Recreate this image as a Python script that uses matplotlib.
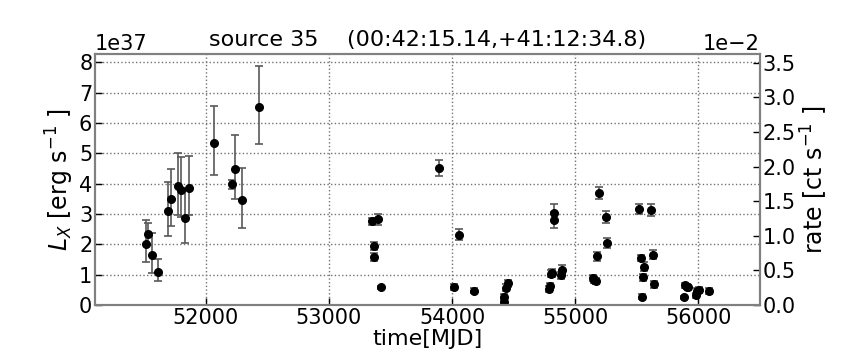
import matplotlib

matplotlib.use("Agg")
import matplotlib.pyplot as plt
import numpy as np

# light curve of source 35, luminosity in units of 1e37 erg/s
mjd = [51512, 51533, 51563, 51612, 51691, 51715, 51775, 51797, 51829, 51864,
       52070, 52214, 52233, 52293, 52428,
       53346, 53368, 53368, 53401, 53425, 53894, 54013, 54056, 54176,
       54420, 54425, 54439, 54455, 54786, 54791, 54800, 54810, 54824, 54824,
       54884, 54894, 55143, 55154, 55165, 55179, 55189, 55249, 55260,
       55517, 55531, 55539, 55550, 55558, 55618, 55628, 55637,
       55883, 55889, 55905, 55916, 55981, 55992, 56006, 56086]
lx = [2.0, 2.33, 1.63, 1.08, 3.09, 3.48, 3.93, 3.79, 2.85, 3.84,
      5.35, 3.98, 4.47, 3.45, 6.52,
      2.75, 1.93, 1.58, 2.83, 0.58, 4.51, 0.58, 2.32, 0.47,
      0.11, 0.27, 0.57, 0.71, 0.53, 0.63, 1.03, 1.05, 3.04, 2.8,
      0.98, 1.16, 0.88, 0.83, 0.79, 1.61, 3.68, 2.89, 2.05,
      3.17, 1.54, 0.27, 0.91, 1.26, 3.12, 1.65, 0.68,
      0.25, 0.65, 0.6, 0.58, 0.32, 0.45, 0.5, 0.45]
err_lo = [0.6, 0.35, 0.58, 0.3, 0.82, 0.88, 0.96, 0.89, 0.8, 0.89,
          1.07, 0.16, 0.97, 0.92, 1.2,
          0.12, 0.13, 0.13, 0.18, 0.05, 0.25, 0.1, 0.18, 0.08,
          0.1, 0.1, 0.12, 0.12, 0.1, 0.1, 0.12, 0.12, 0.28, 0.25,
          0.12, 0.15, 0.1, 0.1, 0.1, 0.15, 0.2, 0.2, 0.17,
          0.17, 0.1, 0.08, 0.12, 0.14, 0.2, 0.15, 0.12,
          0.06, 0.08, 0.08, 0.08, 0.08, 0.1, 0.1, 0.1]
err_hi = [0.8, 0.37, 0.74, 0.42, 0.96, 1.0, 1.09, 1.08, 0.95, 1.06,
          1.22, 0.15, 1.13, 1.07, 1.36,
          0.12, 0.13, 0.13, 0.18, 0.05, 0.25, 0.1, 0.18, 0.08,
          0.1, 0.1, 0.12, 0.12, 0.1, 0.1, 0.12, 0.12, 0.28, 0.25,
          0.12, 0.15, 0.1, 0.1, 0.1, 0.15, 0.2, 0.2, 0.17,
          0.17, 0.1, 0.08, 0.12, 0.14, 0.2, 0.15, 0.12,
          0.06, 0.08, 0.08, 0.08, 0.08, 0.1, 0.1, 0.1]

# L_X / rate conversion (erg per count)
conv = 2.28e39

plt.rcParams["font.size"] = 15
plt.rcParams["xtick.direction"] = "in"
plt.rcParams["ytick.direction"] = "in"
plt.rcParams["axes.linewidth"] = 1.5
plt.rcParams["axes.edgecolor"] = "0.5"

fig = plt.figure(figsize=(8.64, 3.6), dpi=100)
ax = fig.add_axes([0.11, 0.153, 0.7696, 0.697])

L = np.array(lx) * 1e37
yerr = [np.array(err_lo) * 1e37, np.array(err_hi) * 1e37]
ax.errorbar(mjd, L, yerr=yerr, fmt="o", color="k", ms=5.5, ecolor="0.35",
            elinewidth=1.2, capsize=3, capthick=1.2)

ax.set_xlim(51100, 56500)
ax.set_ylim(0, 8.27e37)
ax.set_xticks([52000, 53000, 54000, 55000, 56000])
ax.set_yticks(np.arange(0, 9) * 1e37)
ax.grid(True, linestyle=":", color="0.45", linewidth=1)
ax.tick_params(length=5, width=1, colors="k", labelsize=15, pad=2)

ax.set_xlabel("time[MJD]", fontsize=16, labelpad=1)
ax.set_ylabel(r"$L_X$ [erg s$^{-1}$ ]", fontsize=17, labelpad=2)
ax.set_title("source 35    (00:42:15.14,+41:12:34.8)", fontsize=16, pad=6)
ax.yaxis.get_offset_text().set_fontsize(15)

ax2 = ax.twinx()
ax2.set_ylim(0, 8.27e37 / conv)
ax2.set_yticks(np.arange(0, 3.6, 0.5) * 1e-2)
ax2.ticklabel_format(axis="y", style="sci", scilimits=(-2, -2))
ax2.tick_params(length=5, width=1, labelsize=15, pad=2)
ax2.set_ylabel(r"rate [ct s$^{-1}$ ]", fontsize=17, labelpad=2)
ax2.yaxis.get_offset_text().set_fontsize(15)

fig.savefig("out.png", dpi=100)
